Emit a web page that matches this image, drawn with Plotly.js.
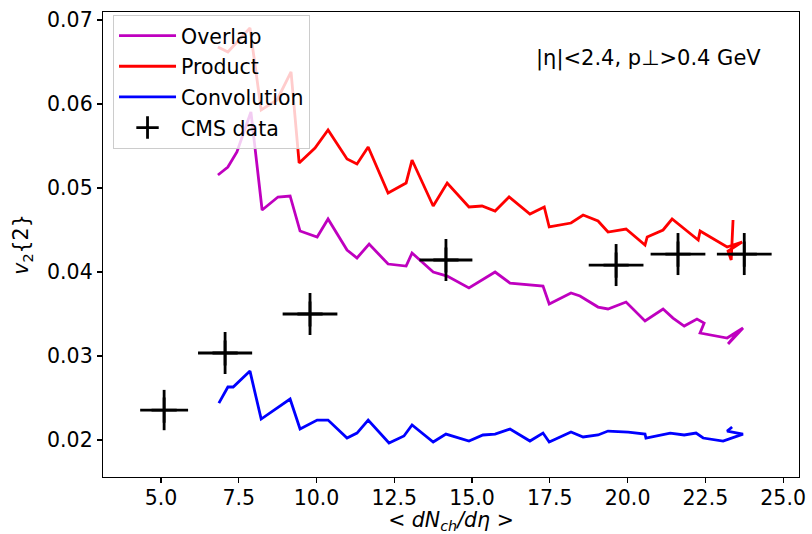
<!DOCTYPE html>
<html>
<head>
<meta charset="utf-8">
<script src="https://cdn.plot.ly/plotly-3.0.1.min.js"></script>
<style>html,body{margin:0;padding:0;background:#fff;}#chart{width:812px;height:534px;}</style>
</head>
<body>
<div id="chart"></div>
<script>
// Overlap (magenta)
const overlapX = [6.83,7.15,7.44,7.89,8.25,8.76,9.15,9.47,10.02,10.37,10.98,11.30,11.69,12.30,12.88,13.07,13.75,14.20,14.90,15.74,16.22,17.28,17.48,18.18,18.47,19.05,19.37,19.95,20.56,21.14,21.46,21.82,22.23,22.46,22.33,23.20,23.71,23.23,23.52];
const overlapY = [0.05155,0.05250,0.05429,0.05905,0.04738,0.04893,0.04905,0.04488,0.04417,0.04631,0.04262,0.04167,0.04333,0.04095,0.04071,0.04226,0.04000,0.03952,0.03810,0.04000,0.03869,0.03833,0.03619,0.03750,0.03714,0.03583,0.03560,0.03643,0.03417,0.03560,0.03452,0.03357,0.03440,0.03393,0.03274,0.03214,0.03333,0.03143,0.03274];
// Product (red)
const productX = [6.83,7.15,7.86,8.22,8.73,9.18,9.44,9.95,10.37,10.98,11.30,11.66,12.30,12.88,13.07,13.75,14.20,14.90,15.32,15.74,16.19,16.86,17.32,17.48,18.18,18.57,19.05,19.37,19.95,20.56,20.63,21.14,21.43,22.27,22.33,23.20,23.68,23.23,23.33,23.39];
const productY = [0.06679,0.06619,0.06905,0.05929,0.06048,0.06381,0.05298,0.05476,0.05690,0.05345,0.05286,0.05488,0.04940,0.05060,0.05333,0.04786,0.05060,0.04774,0.04786,0.04726,0.04893,0.04690,0.04774,0.04536,0.04583,0.04679,0.04607,0.04476,0.04512,0.04321,0.04417,0.04500,0.04631,0.04381,0.04488,0.04298,0.04357,0.04250,0.04143,0.04619];
// Convolution (blue)
const convX = [6.86,7.15,7.32,7.86,8.22,9.15,9.47,10.02,10.37,10.98,11.30,11.66,12.33,12.81,13.07,13.75,14.16,14.90,15.35,15.74,16.22,16.86,17.28,17.48,18.18,18.57,19.05,19.37,20.02,20.56,20.59,21.37,21.82,22.20,22.43,23.07,23.71,23.20,23.36];
const convY = [0.02440,0.02631,0.02631,0.02821,0.02250,0.02488,0.02131,0.02238,0.02238,0.02024,0.02083,0.02238,0.01964,0.02048,0.02179,0.01976,0.02071,0.01988,0.02060,0.02071,0.02131,0.01988,0.02083,0.01976,0.02095,0.02036,0.02060,0.02107,0.02095,0.02071,0.02024,0.02083,0.02060,0.02083,0.02024,0.01988,0.02071,0.02107,0.02155];
// CMS data
const cmsX = [5.10,7.06,9.79,14.16,19.63,21.62,23.75];
const cmsY = [0.02357,0.03036,0.03500,0.04143,0.04083,0.04214,0.04214];
const cmsXerr = [0.77,0.87,0.88,0.85,0.88,0.88,0.88];
const cmsYerr = [0.0024,0.0025,0.0025,0.0025,0.0025,0.0025,0.0025];

const seriesNames = ['Overlap','Product','Convolution','CMS data'];
const annotText = '|η|<2.4, p⊥>0.4 GeV';

const FONT = 'DejaVu Sans, sans-serif';
const LW = 2.8;
const FS = 20.5;

const traces = [
  {x: overlapX, y: overlapY, mode: 'lines', name: seriesNames[0], legendgroup: 'a',
   line: {color: '#bf00bf', width: LW}},
  {x: productX, y: productY, mode: 'lines', name: seriesNames[1], legendgroup: 'b',
   line: {color: '#ff0000', width: LW}},
  {x: convX, y: convY, mode: 'lines', name: seriesNames[2], legendgroup: 'c',
   line: {color: '#0000ff', width: LW}},
  {x: cmsX, y: cmsY, mode: 'markers', name: seriesNames[3], legendgroup: 'd',
   marker: {symbol: 'cross-thin-open', size: 18, color: '#000', line: {color: '#000', width: 2.8}},
   error_x: {type: 'data', array: cmsXerr, visible: true, color: '#000', thickness: 2.8, width: 0},
   error_y: {type: 'data', array: cmsYerr, visible: true, color: '#000', thickness: 2.8, width: 0}}
];

const axisCommon = {
  showgrid: false, zeroline: false, showline: true, mirror: true,
  linecolor: '#000', linewidth: 1.2, ticks: 'outside', ticklen: 5, tickwidth: 1.2,
  tickcolor: '#000', tickfont: {family: FONT, size: FS, color: '#000'}
};

const layout = {
  width: 812, height: 534,
  margin: {l: 103, r: 13, t: 12, b: 57},
  paper_bgcolor: '#fff', plot_bgcolor: '#fff',
  font: {family: FONT, color: '#000'},
  showlegend: true,
  xaxis: Object.assign({}, axisCommon, {
    range: [3.135, 25.51], tickmode: 'array',
    tickvals: [5, 7.5, 10, 12.5, 15, 17.5, 20, 22.5, 25], tickformat: '.1f',
    ticklabelstandoff: -3,
    title: {text: '< <i>dN</i><sub><i>ch</i></sub><i>/dη</i> >', font: {family: FONT, size: FS, color: '#000'}, standoff: 4}
  }),
  yaxis: Object.assign({}, axisCommon, {
    range: [0.0156, 0.07095], tickmode: 'array',
    tickvals: [0.02, 0.03, 0.04, 0.05, 0.06, 0.07], tickformat: '.2f',
    title: {text: '<i>v</i><sub>2</sub>{2}', font: {family: FONT, size: FS, color: '#000'}, standoff: 12}
  }),
  legend: {
    x: 0.0144, y: 0.994, xanchor: 'left', yanchor: 'top',
    bgcolor: 'rgba(255,255,255,0.8)', bordercolor: '#cccccc', borderwidth: 1,
    font: {family: FONT, size: FS, color: '#000'},
    traceorder: 'grouped', tracegroupgap: 1, itemwidth: 57
  },
  annotations: [{
    xref: 'paper', yref: 'paper', x: 0.6193, y: 0.901, xanchor: 'left', yanchor: 'middle',
    text: annotText, showarrow: false, font: {family: FONT, size: 21, color: '#000'}
  }]
};

Plotly.newPlot('chart', traces, layout, {displayModeBar: false, staticPlot: true});
</script>
</body>
</html>
